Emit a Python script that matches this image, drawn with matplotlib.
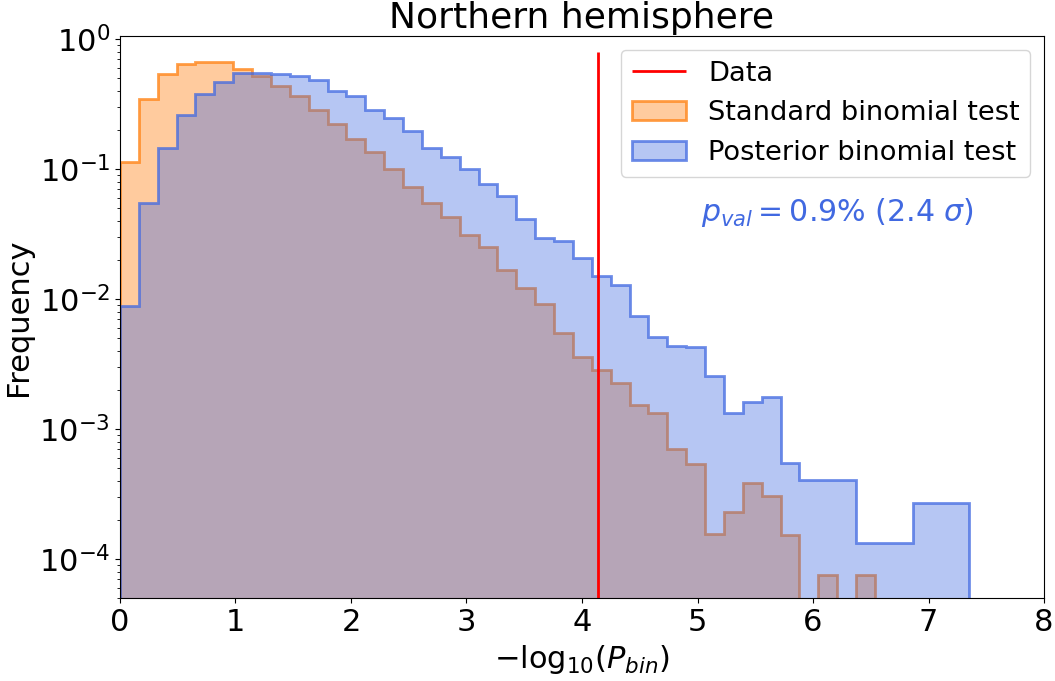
import numpy as np
import matplotlib
matplotlib.use("Agg")
import matplotlib.pyplot as plt
from matplotlib.colors import to_rgba

# ---- data ----
x_max = 7.353
n_bins = 45
bin_edges = np.linspace(0.0, x_max, n_bins + 1)

standard_freq = [
    0.1145, 0.347, 0.544, 0.650, 0.674, 0.674, 0.592, 0.525, 0.440, 0.364,
    0.286, 0.223, 0.170, 0.137, 0.100, 0.0734, 0.0552, 0.0431, 0.0311, 0.0253,
    0.0167, 0.0122, 0.00912, 0.00548, 0.00357, 0.00287, 0.00225, 0.00153, 0.00133, 0.00070,
    0.000537, 0.000155, 0.000230, 0.000383, 0.000309, 0.000153, 0.0, 7.59e-5, 0.0, 7.59e-5,
    0.0, 0.0, 0.0, 0.0, 0.0,
]
posterior_freq = [
    0.00895, 0.0546, 0.147, 0.263, 0.379, 0.466, 0.551, 0.551, 0.542, 0.519,
    0.483, 0.402, 0.364, 0.287, 0.248, 0.198, 0.147, 0.125, 0.100, 0.077,
    0.0622, 0.0418, 0.0298, 0.0281, 0.0209, 0.0150, 0.0128, 0.00738, 0.00516, 0.00438,
    0.00427, 0.00258, 0.00134, 0.00163, 0.00177, 0.000546, 0.000406, 0.000406, 0.000406, 0.000133,
    0.000133, 0.000133, 0.000271, 0.000271, 0.000271,
]
data_value = 4.14
data_line_top = 0.8

labels = ["Standard binomial test", "Posterior binomial test", "Data"]
title = "Northern hemisphere"
pval_text = r"$p_{val} = 0.9\%$ $(2.4\ \sigma)$"

# ---- plot ----
fig = plt.figure(figsize=(10.55, 6.81), dpi=100)
ax = fig.add_axes([0.1137, 0.1214, 0.8759, 0.8257])

centers = 0.5 * (bin_edges[:-1] + bin_edges[1:])
orange = "#ff7f0e"
blue = "royalblue"

ax.hist(centers, bins=bin_edges, weights=standard_freq, histtype="stepfilled",
        facecolor=to_rgba(orange, 0.4), edgecolor=to_rgba(orange, 0.75),
        linewidth=2, log=True, label=labels[0])
ax.hist(centers, bins=bin_edges, weights=posterior_freq, histtype="stepfilled",
        facecolor=to_rgba(blue, 0.38), edgecolor=to_rgba(blue, 0.75),
        linewidth=2, log=True, label=labels[1])
ax.vlines(data_value, 1e-6, data_line_top, color="red", linewidth=2, label=labels[2])

ax.set_xlim(0, 8)
ax.set_ylim(5e-5, 1.06)
ax.set_title(title, fontsize=26, pad=6)
ax.set_xlabel(r"$-\mathrm{log}_{10}(P_{bin})$", fontsize=22)
ax.set_ylabel("Frequency", fontsize=22)
ax.tick_params(axis="both", which="major", labelsize=22)

handles, labs = ax.get_legend_handles_labels()
order = [2, 0, 1]
ax.legend([handles[i] for i in order], [labs[i] for i in order], loc="upper right", fontsize=19.6)

ax.text(0.777, 0.687, pval_text, transform=ax.transAxes, ha="center", va="center",
        color=blue, fontsize=21.6)

fig.savefig("out.png", dpi=100)
